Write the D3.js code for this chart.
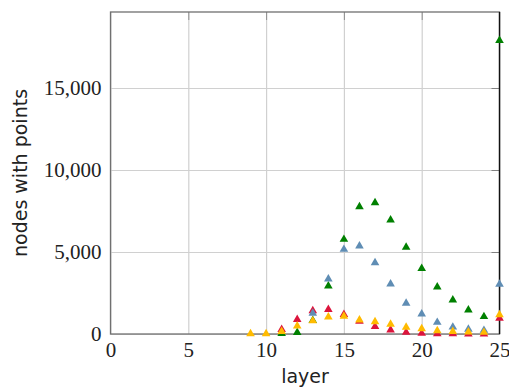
<!DOCTYPE html>
<html>
<head>
<meta charset="utf-8">
<script src="https://cdn.jsdelivr.net/npm/d3@7"></script>
<style>
  body { margin: 0; background: #fff; }
</style>
</head>
<body>
<div id="chart"></div>
<script>
// layers shown on the x axis
const layers = [9, 10, 11, 12, 13, 14, 15, 16, 17, 18, 19, 20, 21, 22, 23, 24, 25];

// nodes with points, one value per layer (null = no point)
const greenValues  = [null, null, 30, 90, 820, 2930, 5770, 7760, 8000, 6950, 5290, 4000, 2870, 2070, 1460, 1060, 17900];
const redValues    = [null, null, 270, 890, 1420, 1490, 1190, 780, 450, 240, 100, 40, 20, 10, 5, 5, 960];
const blueValues   = [null, null, null, null, 1260, 3350, 5160, 5370, 4350, 3050, 1870, 1220, 710, 420, 290, 220, 3040];
const yellowValues = [10, 20, 150, 490, 800, 1040, 1080, 850, 750, 590, 410, 320, 200, 150, 120, 100, 1180];

const xTicks = [0, 5, 10, 15, 20, 25];
const yTicks = [0, 5000, 10000, 15000];

const series = [
  { name: 'green', color: '#008000', values: greenValues },
  { name: 'red', color: '#dc143c', values: redValues },
  { name: 'blue', color: '#5f8db4', values: blueValues },
  { name: 'yellow', color: '#ffbb00', values: yellowValues }
];

const width = 509, height = 390;
const plot = { left: 110.5, right: 499.5, top: 12, bottom: 334 };

const svg = d3.select('#chart').append('svg')
  .attr('width', width)
  .attr('height', height);

const x = d3.scaleLinear().domain([0, 25]).range([plot.left, plot.right]);
const y = d3.scaleLinear().domain([0, 19634]).range([plot.bottom, plot.top]);

function styleTicks(g) {
  g.select('.domain').remove();
  g.selectAll('.tick line').attr('stroke', '#d0d0d0').attr('stroke-width', 1.2);
  g.selectAll('.tick text')
    .style('font-family', '"Liberation Serif", "Times New Roman", serif')
    .style('font-size', '21px')
    .attr('fill', '#222');
}

// grid + y labels
const yAxis = svg.append('g')
  .attr('transform', 'translate(' + plot.left + ',0)')
  .call(d3.axisLeft(y).tickValues(yTicks).tickSize(-(plot.right - plot.left)).tickPadding(9)
    .tickFormat(d3.format(',')));
styleTicks(yAxis);

const xAxis = svg.append('g')
  .attr('transform', 'translate(0,' + plot.bottom + ')')
  .call(d3.axisBottom(x).tickValues(xTicks).tickSize(-(plot.bottom - plot.top)).tickPadding(8));
styleTicks(xAxis);

// short inward ticks on the right and top edges
const yRight = svg.append('g')
  .attr('transform', 'translate(' + plot.right + ',0)')
  .call(d3.axisRight(y).tickValues(yTicks.slice(1)).tickSize(-8).tickFormat(''));
yRight.select('.domain').remove();
yRight.selectAll('.tick line').attr('stroke', '#808080');

const xTop = svg.append('g')
  .attr('transform', 'translate(0,' + plot.top + ')')
  .call(d3.axisTop(x).tickValues(xTicks.slice(1, -1)).tickSize(-8).tickFormat(''));
xTop.select('.domain').remove();
xTop.selectAll('.tick line').attr('stroke', '#909090');

// box: grey top/left/bottom, black right
svg.append('rect')
  .attr('x', plot.left).attr('y', plot.top)
  .attr('width', plot.right - plot.left).attr('height', plot.bottom - plot.top)
  .attr('fill', 'none')
  .attr('stroke', '#707070')
  .attr('stroke-width', 1.3);
svg.append('line')
  .attr('x1', plot.right).attr('x2', plot.right)
  .attr('y1', plot.top).attr('y2', plot.bottom)
  .attr('stroke', '#111')
  .attr('stroke-width', 1.3);

// markers
const tri = d3.symbol().type(d3.symbolTriangle).size(32);
series.forEach(s => {
  const pts = layers.map((l, i) => ({ layer: l, v: s.values[i] })).filter(d => d.v !== null);
  svg.append('g').selectAll('path')
    .data(pts)
    .enter()
    .append('path')
    .attr('d', tri)
    .attr('transform', d => 'translate(' + x(d.layer) + ',' + y(d.v) + ')')
    .attr('fill', s.color);
});

// axis titles
const titleFont = '"DejaVu Sans", sans-serif';
svg.append('text')
  .attr('x', (plot.left + plot.right) / 2)
  .attr('y', 383)
  .attr('text-anchor', 'middle')
  .style('font-family', titleFont)
  .style('font-size', '19px')
  .attr('fill', '#222')
  .text('layer');

svg.append('text')
  .attr('transform', 'translate(27,' + (plot.top + plot.bottom) / 2 + ') rotate(-90)')
  .attr('text-anchor', 'middle')
  .style('font-family', titleFont)
  .style('font-size', '19px')
  .attr('fill', '#222')
  .text('nodes with points');
</script>
</body>
</html>
